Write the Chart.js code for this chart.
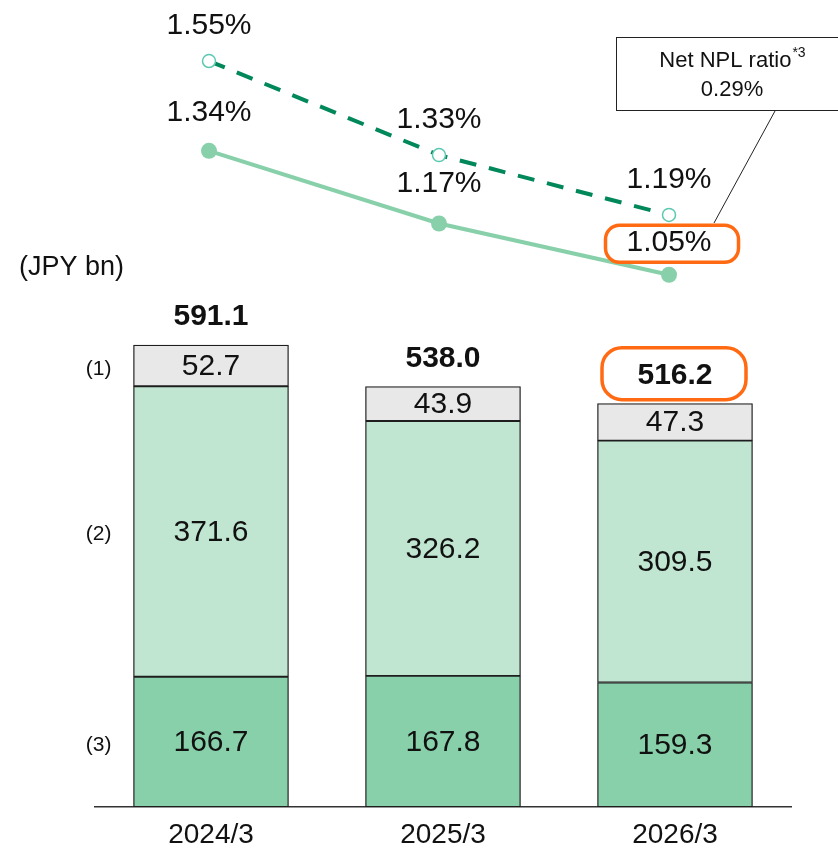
<!DOCTYPE html>
<html>
<head>
<meta charset="utf-8">
<title>NPL chart</title>
<script src="https://cdn.jsdelivr.net/npm/chart.js@4.4.1/dist/chart.umd.min.js"></script>
<style>
  html, body { margin: 0; padding: 0; background: #fff; }
  canvas { display: block; }
</style>
</head>
<body>
<canvas id="chart" width="838" height="849"></canvas>
<script>
// categories and series
const categories = ['2024/3', '2025/3', '2026/3'];
const seg3 = [166.7, 167.8, 159.3];   // bottom
const seg2 = [371.6, 326.2, 309.5];   // middle
const seg1 = [52.7, 43.9, 47.3];      // top
const totals = [591.1, 538.0, 516.2];
const nplRatio = [1.34, 1.17, 1.05];        // solid line
const nplRatioGross = [1.55, 1.33, 1.19];   // dashed line
const segNames = ['(3)', '(2)', '(1)'];

const FONT = '"Liberation Sans", Arial, sans-serif';
const ORANGE = '#ff6a13';

function roundBox(ctx, cx, cy, w, h, r) {
  const x = cx - w / 2, y = cy - h / 2;
  ctx.beginPath();
  ctx.moveTo(x + r, y);
  ctx.arcTo(x + w, y, x + w, y + h, r);
  ctx.arcTo(x + w, y + h, x, y + h, r);
  ctx.arcTo(x, y + h, x, y, r);
  ctx.arcTo(x, y, x + w, y, r);
  ctx.closePath();
  ctx.stroke();
}

const labelPlugin = {
  id: 'labels',
  afterDatasetsDraw(chart) {
    const ctx = chart.ctx;
    ctx.save();
    ctx.fillStyle = '#111';
    ctx.textAlign = 'center';
    ctx.textBaseline = 'middle';

    // segment values
    ctx.font = '30px ' + FONT;
    [0, 1, 2].forEach(di => {
      const meta = chart.getDatasetMeta(di);
      meta.data.forEach((bar, i) => {
        const v = chart.data.datasets[di].data[i];
        ctx.fillText(v.toFixed(1), bar.x, (bar.y + bar.base) / 2 + 1);
      });
    });

    // totals above the bars
    const top = chart.getDatasetMeta(2);
    ctx.font = 'bold 30px ' + FONT;
    top.data.forEach((bar, i) => {
      ctx.fillText(totals[i].toFixed(1), bar.x, bar.y - 28);
    });

    // segment names left of first bar
    ctx.font = '21px ' + FONT;
    ctx.textAlign = 'right';
    [0, 1, 2].forEach(di => {
      const bar = chart.getDatasetMeta(di).data[0];
      ctx.fillText(segNames[di], bar.x - bar.width / 2 - 22, (bar.y + bar.base) / 2 + 3);
    });

    // line labels
    ctx.textAlign = 'center';
    ctx.font = '30px ' + FONT;
    const solid = chart.getDatasetMeta(3);
    const solidOff = [-38, -40, -32];
    solid.data.forEach((p, i) => {
      ctx.fillText(nplRatio[i].toFixed(2) + '%', p.x, p.y + solidOff[i]);
    });
    const dashed = chart.getDatasetMeta(4);
    dashed.data.forEach((p, i) => {
      ctx.fillText(nplRatioGross[i].toFixed(2) + '%', p.x, p.y - 35);
    });

    // unit
    ctx.textAlign = 'left';
    ctx.font = '27px ' + FONT;
    ctx.fillText('(JPY bn)', 19, 268);

    // orange highlight boxes
    ctx.strokeStyle = ORANGE;
    ctx.lineWidth = 3.5;
    const lastBar = top.data[2];
    roundBox(ctx, lastBar.x - 1, lastBar.y - 30, 144, 52, 20);
    const lastPt = solid.data[2];
    roundBox(ctx, lastPt.x + 3, lastPt.y - 31, 133, 37, 14);

    // callout box
    ctx.strokeStyle = '#222';
    ctx.lineWidth = 1;
    ctx.strokeRect(616.5, 37.5, 232, 73);
    ctx.beginPath();
    ctx.moveTo(775, 111);
    ctx.lineTo(714, 223);
    ctx.stroke();
    ctx.fillStyle = '#111';
    ctx.textAlign = 'left';
    ctx.font = '22px ' + FONT;
    const t1 = 'Net NPL ratio';
    const w1 = ctx.measureText(t1).width;
    ctx.font = '14px ' + FONT;
    const w2 = ctx.measureText('*3').width;
    const x0 = 732 - (w1 + w2) / 2;
    ctx.font = '22px ' + FONT;
    ctx.fillText(t1, x0, 61);
    ctx.font = '14px ' + FONT;
    ctx.fillText('*3', x0 + w1 + 1, 53);
    ctx.textAlign = 'center';
    ctx.font = '22px ' + FONT;
    ctx.fillText('0.29%', 732, 90);

    ctx.restore();
  }
};

const barCommon = {
  type: 'bar',
  borderColor: '#1e1e1e',
  borderWidth: 1.3,
  borderSkipped: false,
  grouped: false,
  barThickness: 155,
  xAxisID: 'x',
  yAxisID: 'y'
};

new Chart(document.getElementById('chart'), {
  data: {
    labels: categories,
    datasets: [
      Object.assign({}, barCommon, { label: '(3)', data: seg3, backgroundColor: '#88d0aa' }),
      Object.assign({}, barCommon, { label: '(2)', data: seg2, backgroundColor: '#c0e6d2' }),
      Object.assign({}, barCommon, { label: '(1)', data: seg1, backgroundColor: '#e8e8e8' }),
      {
        type: 'line',
        label: 'NPL ratio',
        data: nplRatio.map((v, i) => ({ x: i, y: v })),
        xAxisID: 'x2',
        yAxisID: 'y2',
        borderColor: '#88d0aa',
        borderWidth: 4,
        pointRadius: 8,
        pointBackgroundColor: '#88d0aa',
        pointBorderColor: '#88d0aa',
        pointBorderWidth: 0,
        fill: false,
        order: -1
      },
      {
        type: 'line',
        label: 'NPL ratio (gross)',
        data: nplRatioGross.map((v, i) => ({ x: i, y: v })),
        xAxisID: 'x2',
        yAxisID: 'y2',
        borderColor: '#00875a',
        borderWidth: 4,
        borderDash: [17, 13],
        pointRadius: 6.5,
        pointBackgroundColor: '#ffffff',
        pointBorderColor: '#5cc8b0',
        pointBorderWidth: 1.5,
        fill: false,
        order: -1
      }
    ]
  },
  options: {
    responsive: false,
    animation: false,
    layout: { padding: { left: 95, right: 47, top: 20, bottom: -14 } },
    plugins: { legend: { display: false }, tooltip: { enabled: false } },
    scales: {
      x: {
        stacked: true,
        grid: { display: false, drawTicks: false },
        border: { display: true, color: '#333', width: 1.5 },
        ticks: { color: '#111', padding: 14, font: { family: FONT, size: 28, lineHeight: 1 } }
      },
      y: { stacked: true, display: false, min: 0, max: 1007 },
      x2: { type: 'linear', display: false, min: -0.4957, max: 2.5304 },
      y2: { display: false, min: -0.195, max: 1.646 }
    }
  },
  plugins: [labelPlugin]
});
</script>
</body>
</html>
